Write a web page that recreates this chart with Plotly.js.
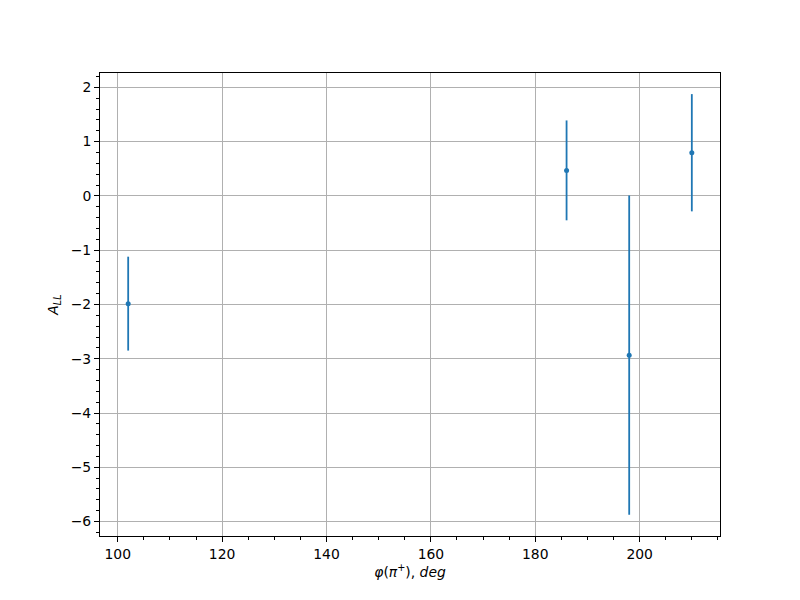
<!DOCTYPE html>
<html>
<head>
<meta charset="utf-8">
<script src="https://cdn.plot.ly/plotly-3.0.1.min.js"></script>
<style>body{margin:0;padding:0;background:#fff;}#chart{width:800px;height:600px;}</style>
</head>
<body>
<div id="chart"></div>
<script>
const phi = [102, 186, 198, 210];
const all = [-1.985, 0.47, -2.935, 0.795];
const errs = [0.865, 0.92, 2.94, 1.08];

const trace = {
  x: phi, y: all, type: 'scatter', mode: 'markers',
  marker: {color: '#1f77b4', size: 5},
  error_y: {type: 'data', array: errs, visible: true, color: '#1f77b4', thickness: 1.8, width: 0},
  showlegend: false
};

const font = {family: 'DejaVu Sans, sans-serif', size: 13.9, color: '#000'};
const layout = {
  width: 800, height: 600,
  margin: {l: 100, r: 80, t: 73, b: 64},
  paper_bgcolor: '#fff', plot_bgcolor: '#fff',
  font: font,
  xaxis: {
    range: [96.6, 215.4], tickvals: [100, 120, 140, 160, 180, 200],
    ticks: 'outside', ticklen: 5, tickwidth: 1, tickcolor: '#000',
    showline: true, linecolor: '#000', linewidth: 1, mirror: true,
    showgrid: true, gridcolor: '#b0b0b0', gridwidth: 1, zeroline: false,
    minor: {dtick: 5, ticks: 'outside', ticklen: 3, tickcolor: '#000', showgrid: false},
    title: {text: '<i>φ</i>(<i>π</i><sup>+</sup>), <i>deg</i>', font: font, standoff: 6}
  },
  yaxis: {
    range: [-6.266, 2.264], tickvals: [-6, -5, -4, -3, -2, -1, 0, 1, 2],
    ticktext: ['−6', '−5', '−4', '−3', '−2', '−1', '0', '1', '2'],
    ticks: 'outside', ticklen: 5, tickwidth: 1, tickcolor: '#000',
    showline: true, linecolor: '#000', linewidth: 1, mirror: true,
    showgrid: true, gridcolor: '#b0b0b0', gridwidth: 1, zeroline: false,
    minor: {dtick: 0.2, ticks: 'outside', ticklen: 3, tickcolor: '#000', showgrid: false},
    title: {text: '<i>A</i><sub><i>LL</i></sub>', font: font, standoff: 8}
  }
};

Plotly.newPlot('chart', [trace], layout, {displayModeBar: false, staticPlot: true});
</script>
</body>
</html>
